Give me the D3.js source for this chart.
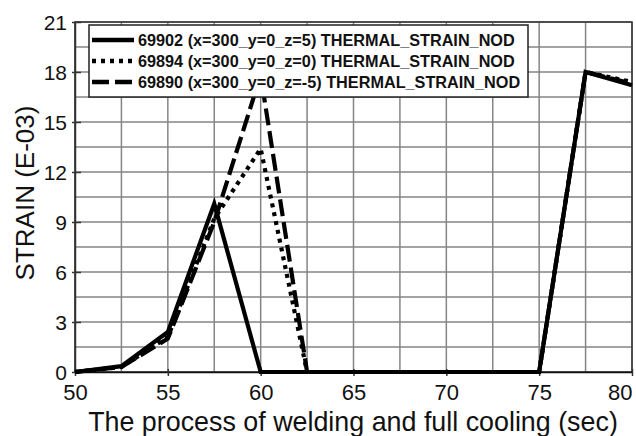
<!DOCTYPE html>
<html>
<head>
<meta charset="utf-8">
<script src="https://cdn.jsdelivr.net/npm/d3@7/dist/d3.min.js"></script>
<style>
  html, body { margin: 0; padding: 0; background: #fff; }
  svg { display: block; }
  text { font-family: Arial, "Liberation Sans", sans-serif; fill: #111; }
</style>
</head>
<body>
<svg id="chart" width="636" height="436"></svg>
<script>
// ---- data ----
const time = [50, 52.5, 55, 57.5, 60, 62.5, 65, 67.5, 70, 72.5, 75, 77.5, 80];
const strainZ5 = [0, 0.35, 2.4, 10.1, 0, 0, 0, 0, 0, 0, 0, 18.0, 17.2];
const strainZ0 = [0, 0.3, 2.1, 9.2, 13.4, 0, 0, 0, 0, 0, 0, 18.0, 17.4];
const strainZm5 = [0, 0.3, 2.0, 9.0, 17.8, 0, 0, 0, 0, 0, 0, 18.0, 17.3];
const seriesNames = [
  "69902 (x=300_y=0_z=5) THERMAL_STRAIN_NOD",
  "69894 (x=300_y=0_z=0) THERMAL_STRAIN_NOD",
  "69890 (x=300_y=0_z=-5) THERMAL_STRAIN_NOD"
];
const xTicks = [50, 55, 60, 65, 70, 75, 80];
const yTicks = [0, 3, 6, 9, 12, 15, 18, 21];
const xTitle = "The process of welding and full cooling (sec)";
const yTitle = "STRAIN (E-03)";

// ---- layout ----
const svg = d3.select("#chart");
const L = 75, R = 632, T = 22, B = 372;
const x = d3.scaleLinear().domain([50, 80]).range([L, R]);
const y = d3.scaleLinear().domain([0, 21]).range([B, T]);

// grid
const gx = d3.range(50, 80.01, 2.5);
const gy = d3.range(0, 21.01, 1.5);
svg.append("g").selectAll("line").data(gx).join("line")
  .attr("x1", d => x(d)).attr("x2", d => x(d)).attr("y1", T).attr("y2", B)
  .attr("stroke", "#858585").attr("stroke-width", 1.5);
svg.append("g").selectAll("line").data(gy).join("line")
  .attr("x1", L).attr("x2", R).attr("y1", d => y(d)).attr("y2", d => y(d))
  .attr("stroke", "#858585").attr("stroke-width", 1.5);

// border
svg.append("rect").attr("x", L).attr("y", T).attr("width", R - L).attr("height", B - T)
  .attr("fill", "none").attr("stroke", "#333").attr("stroke-width", 1.5);

// axes
const xAxis = svg.append("g").attr("transform", `translate(0,${B})`)
  .call(d3.axisBottom(x).tickValues(xTicks).tickSize(4).tickPadding(10).tickSizeOuter(0));
xAxis.select(".domain").attr("stroke", "#111").attr("stroke-width", 1.5);
xAxis.selectAll(".tick line").attr("stroke", "#333").attr("stroke-width", 1.5).attr("y1", -3);
xAxis.selectAll(".tick text").attr("font-size", 22).attr("fill", "#111").attr("dy", "0.62em");
xAxis.selectAll(".tick text").filter(d => d === 80).attr("text-anchor", "end").attr("dx", 0);

const yAxis = svg.append("g").attr("transform", `translate(${L},0)`)
  .call(d3.axisLeft(y).tickValues(yTicks).tickSize(3).tickPadding(5).tickSizeOuter(0));
yAxis.select(".domain").attr("stroke", "#333").attr("stroke-width", 1.5);
yAxis.selectAll(".tick line").attr("stroke", "#333").attr("stroke-width", 1.5).attr("x1", 6).attr("x2", -3);
yAxis.selectAll(".tick text").attr("font-size", 21).attr("fill", "#111").attr("dy", "0.36em");

// series lines
const line = d3.line().x(d => x(d[0])).y(d => y(d[1]));
const series = [
  { vals: strainZ5, dash: null },
  { vals: strainZ0, dash: "4,5" },
  { vals: strainZm5, dash: "17,6" }
];
const drawOrder = [2, 1, 0];
drawOrder.forEach(i => {
  const s = series[i];
  svg.append("path")
    .datum(time.map((t, k) => [t, s.vals[k]]))
    .attr("d", line)
    .attr("fill", "none").attr("stroke", "#000").attr("stroke-width", 4.2)
    .attr("stroke-linejoin", "miter")
    .attr("stroke-dasharray", s.dash);
});

// legend
const lg = svg.append("g");
lg.append("rect").attr("x", 89).attr("y", 25).attr("width", 439).attr("height", 72)
  .attr("fill", "#fff").attr("stroke", "#222").attr("stroke-width", 1.5);
seriesNames.forEach((name, i) => {
  const ry = 40 + i * 21;
  lg.append("line").attr("x1", 92).attr("x2", 134).attr("y1", ry).attr("y2", ry)
    .attr("stroke", "#000").attr("stroke-width", 4.5)
    .attr("stroke-dasharray", series[i].dash);
  lg.append("text").attr("x", 138).attr("y", ry).attr("dy", "0.36em")
    .attr("font-size", 15).attr("font-weight", "bold").text(name);
});
// fit first legend text width to ~377px
const lt = lg.selectAll("text");
const w0 = lt.node().getComputedTextLength();
lt.attr("font-size", 15 * 377 / w0);

// titles
const xt = svg.append("text").attr("x", 353).attr("y", 431).attr("text-anchor", "middle")
  .attr("font-size", 23).text(xTitle);
const xw = xt.node().getComputedTextLength();
xt.attr("font-size", 23 * 530 / xw);

const yt = svg.append("text").attr("transform", "translate(34,193) rotate(-90)")
  .attr("text-anchor", "middle").attr("font-size", 21).text(yTitle);
const yw = yt.node().getComputedTextLength();
yt.attr("font-size", 21 * 175 / yw);
</script>
</body>
</html>
